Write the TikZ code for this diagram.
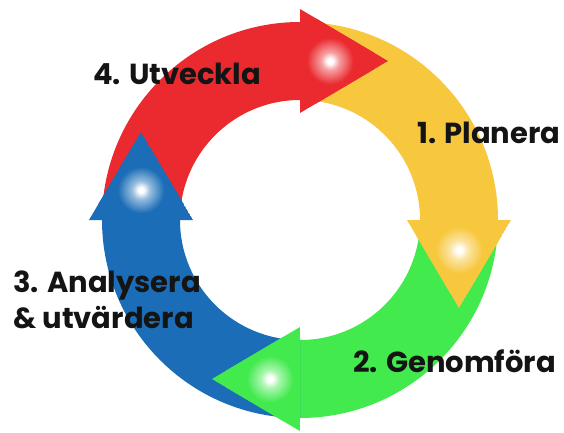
\documentclass[tikz,border=0pt]{standalone}
\usepackage{fontspec}
\setmainfont{Poppins}
\usetikzlibrary{positioning}

\definecolor{cyred}{RGB}{234,42,47}
\definecolor{cyyellow}{RGB}{247,199,62}
\definecolor{cygreen}{RGB}{66,234,78}
\definecolor{cyblue}{RGB}{26,109,182}
\definecolor{cytext}{RGB}{20,20,20}

\pgfdeclareradialshading{glowred}{\pgfpoint{0bp}{0bp}}{color(0bp)=(white); color(1.5bp)=(white); color(5bp)=(cyred!45!white); color(13bp)=(cyred); color(50bp)=(cyred)}
\pgfdeclareradialshading{glowyellow}{\pgfpoint{0bp}{0bp}}{color(0bp)=(white); color(1.5bp)=(white); color(5bp)=(cyyellow!45!white); color(13bp)=(cyyellow); color(50bp)=(cyyellow)}
\pgfdeclareradialshading{glowgreen}{\pgfpoint{0bp}{0bp}}{color(0bp)=(white); color(1.5bp)=(white); color(5bp)=(cygreen!45!white); color(13bp)=(cygreen); color(50bp)=(cygreen)}
\pgfdeclareradialshading{glowblue}{\pgfpoint{0bp}{0bp}}{color(0bp)=(white); color(1.5bp)=(white); color(5bp)=(cyblue!45!white); color(13bp)=(cyblue); color(50bp)=(cyblue)}

\begin{document}
\begin{tikzpicture}[x=1pt, y=1pt, every node/.style={font=\fontsize{29}{34}\selectfont\bfseries, text=cytext, inner sep=0pt}]
  \useasboundingbox (0,0) rectangle (564,432);

  \begin{scope}[shift={(300,212)}]
  % Arrow bodies
  \fill[cyred] (180:198) arc[start angle=180, end angle=90, radius=198] -- (90:120) arc[start angle=90, end angle=180, radius=120] -- cycle;
  \fill[cyyellow] (90:198) arc[start angle=90, end angle=0, radius=198] -- (0:120) arc[start angle=0, end angle=90, radius=120] -- cycle;
  \fill[cygreen] (0:198) arc[start angle=0, end angle=-90, radius=198] -- (-90:120) arc[start angle=-90, end angle=0, radius=120] -- cycle;
  \fill[cyblue] (-90:198) arc[start angle=-90, end angle=-180, radius=198] -- (-180:120) arc[start angle=-180, end angle=-90, radius=120] -- cycle;

  % Arrow heads with glow
  \begin{scope}
    \clip (0,211) -- (88,159) -- (0,107) -- cycle;
    \fill[cyred] (0,211) -- (88,159) -- (0,107) -- cycle;
    \shade[shading=glowred] (30,159) circle (45);
  \end{scope}
  \begin{scope}
    \clip (211,0) -- (159,-88) -- (107,0) -- cycle;
    \fill[cyyellow] (211,0) -- (159,-88) -- (107,0) -- cycle;
    \shade[shading=glowyellow] (159,-30) circle (45);
  \end{scope}
  \begin{scope}
    \clip (0,-211) -- (-88,-159) -- (0,-107) -- cycle;
    \fill[cygreen] (0,-211) -- (-88,-159) -- (0,-107) -- cycle;
    \shade[shading=glowgreen] (-30,-159) circle (45);
  \end{scope}
  \begin{scope}
    \clip (-211,0) -- (-159,88) -- (-107,0) -- cycle;
    \fill[cyblue] (-211,0) -- (-159,88) -- (-107,0) -- cycle;
    \shade[shading=glowblue] (-159,30) circle (45);
  \end{scope}
  \end{scope}

  % Labels
  \node (utv) [anchor=base west] at (93,347) {4. Utveckla};
  \node (plan) [anchor=base west] at (417,289) {1. Planera};
  \node (gen) [anchor=base west] at (353,60) {2. Genomföra};
  \node (ana) [anchor=base west] at (13,140) {3. Analysera};
  \node (utvard) [anchor=base west] at (13,104) {\& utvärdera};
\end{tikzpicture}
\end{document}
